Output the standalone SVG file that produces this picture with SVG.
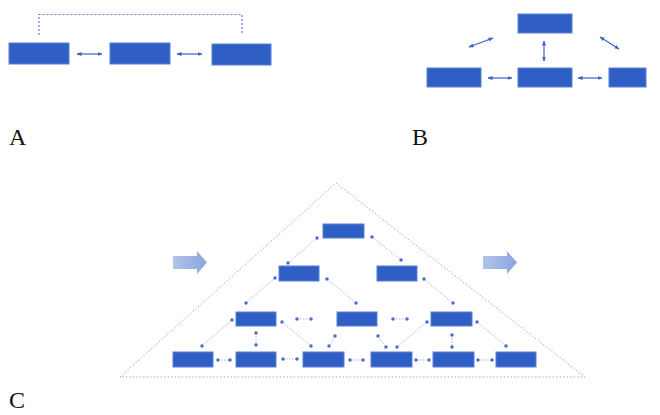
<svg xmlns="http://www.w3.org/2000/svg" width="660" height="415" viewBox="0 0 660 415">
<defs>
<marker id="ah" viewBox="0 0 10 10" refX="9" refY="5" markerWidth="5" markerHeight="5" orient="auto-start-reverse" markerUnits="userSpaceOnUse"><path d="M0,1 L10,5 L0,9 z" fill="#3a62c4"/></marker>
<marker id="dot" viewBox="0 0 4 4" refX="2" refY="2" markerWidth="3.5" markerHeight="3.5" markerUnits="userSpaceOnUse"><circle cx="2" cy="2" r="2" fill="#4b6dca"/></marker>
<linearGradient id="bg" x1="0" x2="1" y1="0" y2="0"><stop offset="0" stop-color="#b3c4ea"/><stop offset="1" stop-color="#8aa4dd"/></linearGradient>
</defs>
<style>
.box{fill:#2f5fc5;stroke:#5b80d2;stroke-width:1}
.arr{stroke:#3a62c4;stroke-width:1.2;fill:none;marker-start:url(#ah);marker-end:url(#ah)}
.con{stroke:#a8b6de;stroke-width:1;stroke-dasharray:1.5 1.5;fill:none;marker-start:url(#dot);marker-end:url(#dot)}
.frame{stroke:#9aa9d4;stroke-width:1;stroke-dasharray:1.5 2;fill:none}
.bracket{stroke:#5f7ccb;stroke-width:1.2;stroke-dasharray:2 2;fill:none}
.lbl{font-family:"Liberation Serif",serif;font-size:24px;fill:#111}
.big{fill:url(#bg)}
</style>
<rect width="660" height="415" fill="#ffffff"/>

<!-- Part A -->
<g id="A-label"><text class="lbl" x="9" y="145">A</text></g>
<g id="A-bracket"><path class="bracket" d="M39,35 V14.5 H242 V35"/></g>
<g id="A1"><rect class="box" x="9" y="43" width="60" height="21"/></g>
<g id="A2"><rect class="box" x="110" y="43" width="60" height="21"/></g>
<g id="A3"><rect class="box" x="212" y="44" width="59" height="21"/></g>
<g id="A-connectors">
<line class="arr" x1="77" y1="54" x2="102" y2="54"/>
<line class="arr" x1="177" y1="54" x2="202" y2="54"/>
</g>

<!-- Part B -->
<g id="B-label"><text class="lbl" x="412" y="145">B</text></g>
<g id="B-top"><rect class="box" x="518" y="14" width="54" height="19"/></g>
<g id="B-left"><rect class="box" x="427" y="68" width="54" height="19"/></g>
<g id="B-mid"><rect class="box" x="518" y="68" width="54" height="19"/></g>
<g id="B-right"><rect class="box" x="609" y="68" width="37" height="19"/></g>
<g id="B-connectors">
<line class="arr" x1="488" y1="78" x2="512" y2="78"/>
<line class="arr" x1="578" y1="78" x2="602" y2="78"/>
<line class="arr" x1="544" y1="41" x2="544" y2="61"/>
<line class="arr" x1="469" y1="47" x2="493" y2="38"/>
<line class="arr" x1="600" y1="37" x2="619" y2="49"/>
</g>

<!-- Part C -->
<g id="C-label"><text class="lbl" x="9" y="408">C</text></g>
<g id="C-triangle"><path class="frame" d="M336,183 L585,377 L120,377 Z"/></g>
<g id="C-arrow-left"><polygon class="big" points="173,256 197,256 197,251 207,262.5 197,274 197,269 173,269"/></g>
<g id="C-arrow-right"><polygon class="big" points="483,256 507,256 507,251 517,262.5 507,274 507,269 483,269"/></g>

<g id="C0"><rect class="box" x="323" y="224" width="41" height="14"/></g>
<g id="C1a"><rect class="box" x="279" y="266" width="40" height="15"/></g>
<g id="C1b"><rect class="box" x="377" y="266" width="40" height="15"/></g>
<g id="C2a"><rect class="box" x="236" y="312" width="40" height="14"/></g>
<g id="C2b"><rect class="box" x="337" y="312" width="40" height="14"/></g>
<g id="C2c"><rect class="box" x="431" y="312" width="41" height="14"/></g>
<g id="C3a"><rect class="box" x="173" y="352" width="40" height="15"/></g>
<g id="C3b"><rect class="box" x="236" y="352" width="40" height="15"/></g>
<g id="C3c"><rect class="box" x="303" y="352" width="41" height="15"/></g>
<g id="C3d"><rect class="box" x="371" y="352" width="41" height="15"/></g>
<g id="C3e"><rect class="box" x="433" y="352" width="41" height="15"/></g>
<g id="C3f"><rect class="box" x="496" y="352" width="40" height="15"/></g>

<g id="C-connectors">
<line class="con" x1="317" y1="238" x2="288" y2="263"/>
<line class="con" x1="372" y1="237" x2="401" y2="260"/>
<line class="con" x1="275" y1="278" x2="246" y2="303"/>
<line class="con" x1="327" y1="279" x2="356" y2="303"/>
<line class="con" x1="424" y1="279" x2="453" y2="303"/>
<line class="con" x1="297" y1="319" x2="311" y2="319"/>
<line class="con" x1="393" y1="319" x2="407" y2="319"/>
<line class="con" x1="202" y1="346" x2="232" y2="320"/>
<line class="con" x1="256" y1="333" x2="256" y2="345"/>
<line class="con" x1="282" y1="322" x2="311" y2="346"/>
<line class="con" x1="335" y1="336" x2="329" y2="346"/>
<line class="con" x1="378" y1="336" x2="386" y2="347"/>
<line class="con" x1="397" y1="347" x2="427" y2="322"/>
<line class="con" x1="452" y1="335" x2="452" y2="347"/>
<line class="con" x1="477" y1="322" x2="506" y2="346"/>
<line class="con" x1="218" y1="360" x2="230" y2="360"/>
<line class="con" x1="283" y1="359" x2="297" y2="359"/>
<line class="con" x1="350" y1="360" x2="363" y2="360"/>
<line class="con" x1="416" y1="360" x2="429" y2="360"/>
<line class="con" x1="478" y1="360" x2="492" y2="360"/>
</g>
</svg>
